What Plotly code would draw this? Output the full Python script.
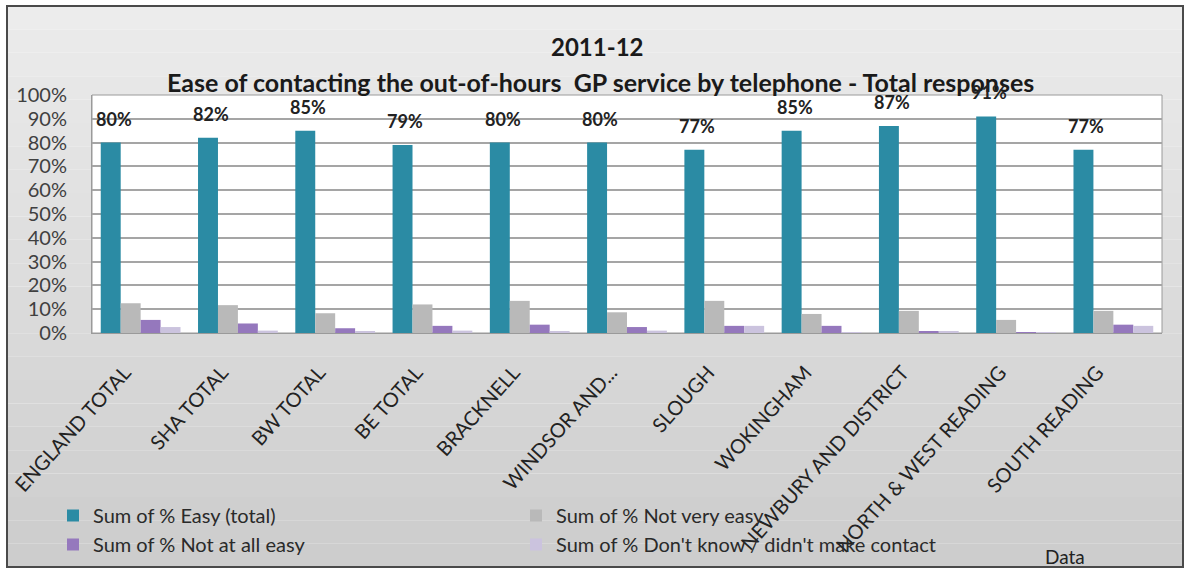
import plotly.graph_objects as go

categories = ["ENGLAND TOTAL", "SHA TOTAL", "BW TOTAL", "BE TOTAL", "BRACKNELL",
              "WINDSOR AND...", "SLOUGH", "WOKINGHAM", "NEWBURY AND DISTRICT",
              "NORTH & WEST READING", "SOUTH READING"]
easy_total = [80, 82, 85, 79, 80, 80, 77, 85, 87, 91, 77]
not_very_easy = [12.5, 11.7, 8.3, 12.0, 13.5, 8.7, 13.5, 8.0, 9.3, 5.5, 9.3]
not_at_all_easy = [5.5, 4.0, 2.0, 3.0, 3.5, 2.5, 3.0, 3.0, 0.5, 0.3, 3.5]
dont_know = [2.5, 1.0, 0.5, 1.0, 0.5, 1.0, 3.0, 0.3, 0.5, 0.3, 3.0]
series_names = ["Sum of % Easy (total)", "Sum of % Not very easy",
                "Sum of % Not at all easy", "Sum of % Don't know / didn't make contact"]
y_ticks = list(range(0, 101, 10))

W, H = 1189, 570
L, R, T, B = 92, 1162, 95, 333

def px(x):
    return (x - L) / (R - L)

def py(y):
    return (B - y) / (B - T)

FONT = "Lato"
colors = ["#2b8ba4", "#b9b9b9", "#9578bd", "#cbc3de"]
series = [easy_total, not_very_easy, not_at_all_easy, dont_know]

fig = go.Figure()
for name, vals, col in zip(series_names, series, colors):
    fig.add_trace(go.Bar(x=categories, y=vals, name=name,
                         marker=dict(color=col, line=dict(width=0))))

shapes = []
n = 24
top_c = (236, 236, 236)
bot_c = (205, 205, 205)
y0p, y1p = 6, 567
for i in range(n):
    t = i / (n - 1)
    c = tuple(int(top_c[k] + (bot_c[k] - top_c[k]) * t) for k in range(3))
    ya = y0p + (y1p - y0p) * i / n
    yb = y0p + (y1p - y0p) * (i + 1) / n
    shapes.append(dict(type="rect", xref="paper", yref="paper",
                       x0=px(7), x1=px(1183), y0=py(yb), y1=py(ya),
                       fillcolor="rgb(%d,%d,%d)" % c, line=dict(width=0), layer="below"))
shapes.append(dict(type="rect", xref="paper", yref="paper", x0=0, x1=1, y0=0, y1=1,
                   fillcolor="white", line=dict(color="#9a9a9a", width=1), layer="below"))
shapes.append(dict(type="rect", xref="paper", yref="paper",
                   x0=px(7), x1=px(1183), y0=py(567), y1=py(6),
                   fillcolor="rgba(0,0,0,0)", line=dict(color="#4a4a4a", width=2), layer="above"))

annotations = [
    dict(text="<b>2011-12</b>", xref="paper", yref="paper", x=px(597), y=py(46),
         xanchor="center", yanchor="middle", showarrow=False,
         font=dict(family=FONT, size=24, color="#1a1a1a")),
    dict(text="<b>Ease of contacting the out-of-hours  GP service by telephone - Total responses</b>",
         xref="paper", yref="paper", x=px(600), y=py(82), xanchor="center", yanchor="middle",
         showarrow=False, font=dict(family=FONT, size=25, color="#1a1a1a")),
    dict(text="Data", xref="paper", yref="paper", x=px(1065), y=py(556),
         xanchor="center", yanchor="middle", showarrow=False,
         font=dict(family=FONT, size=19, color="#222")),
]
for c, v in zip(categories, easy_total):
    annotations.append(dict(text="<b>%d%%</b>" % v, x=c, y=v, xref="x", yref="y",
                            xshift=-27, yshift=24, showarrow=False,
                            xanchor="center", yanchor="middle",
                            font=dict(family=FONT, size=18, color="#222")))

fig.update_layout(
    width=W, height=H,
    margin=dict(l=L, r=W - R, t=T, b=H - B, autoexpand=False),
    paper_bgcolor="white", plot_bgcolor="rgba(0,0,0,0)",
    barmode="group", bargap=0.18, bargroupgap=0,
    shapes=shapes, annotations=annotations,
    showlegend=True,
    legend=dict(orientation="h", x=px(53), y=py(496), xanchor="left", yanchor="top",
                entrywidth=418, entrywidthmode="pixels",
                font=dict(family=FONT, size=20, color="#2a2a2a"),
                bgcolor="rgba(0,0,0,0)", itemwidth=30, tracegroupgap=0),
    font=dict(family=FONT),
)
fig.update_yaxes(range=[0, 100], tickvals=y_ticks, ticktext=["%d%%" % v for v in y_ticks],
                 showgrid=True, gridcolor="#a5a5a5", gridwidth=1.5,
                 tickfont=dict(family=FONT, size=20, color="#404040"),
                 ticks="", ticklabelstandoff=20, zeroline=False,
                 showline=True, linecolor="#9a9a9a")
fig.update_xaxes(tickangle=-48, tickfont=dict(family=FONT, size=20, color="#222"),
                 ticklabelstandoff=19, ticklabelshift=-16,
                 showgrid=False, showline=True, linecolor="#9a9a9a")

fig.write_html("out.html", config={"displayModeBar": False},
               post_script="document.body.style.margin='0';document.body.style.padding='0';")
